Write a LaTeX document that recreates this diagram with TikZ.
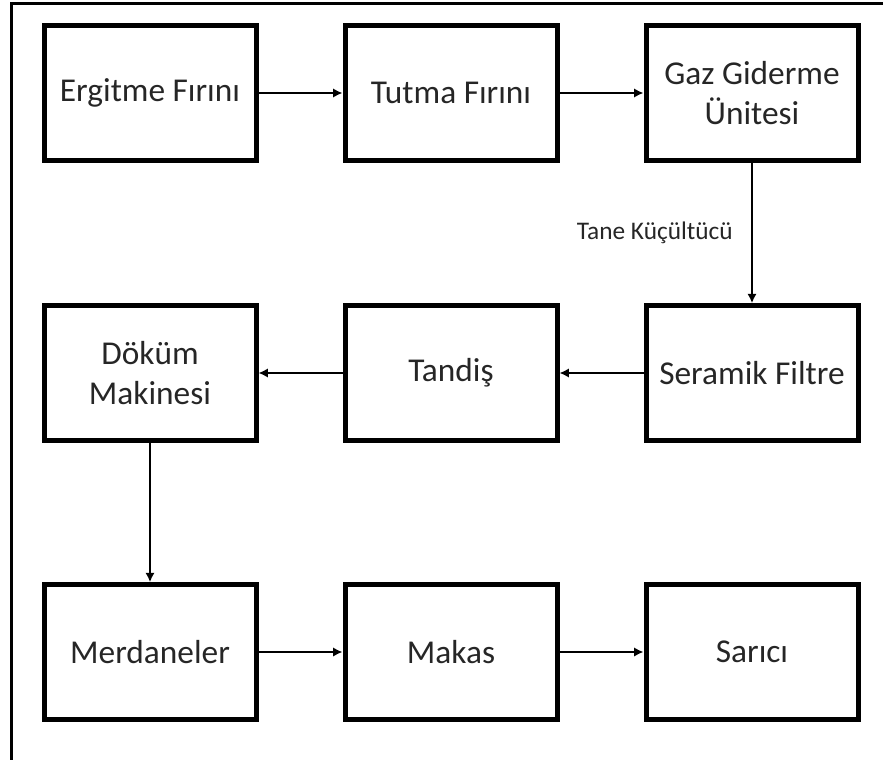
\documentclass[tikz,border=0pt]{standalone}
\usepackage{fontspec}
\setmainfont{Carlito}
\usetikzlibrary{arrows.meta,positioning}

\begin{document}
\begin{tikzpicture}
                \tikzset{x={(0.75pt, 0pt)}, y={(0pt, -0.75pt)}}
                \tikzset{stage/.style={draw, line width=3.75pt, minimum width=159pt, minimum height=101pt, inner sep=0pt, align=center, text=black!85, font=\fontsize{25}{30}\selectfont},
                         flow/.style={line width=2.2pt, -{Latex[length=7pt,width=7pt]}}}
                \useasboundingbox (0, 0) rectangle (883, 760);
                \draw[line width=2.25pt] (11, 760) -- (11, 3) -- (883, 3);
                \node[stage] (ergitme) at (150, 93) {Ergitme Fırını};
                \node[stage] (tutma) at (451, 93) {Tutma Fırını};
                \node[stage] (gaz) at (752, 93) {Gaz Giderme\\Ünitesi};
                \node[stage] (seramik) at (752, 373) {Seramik Filtre};
                \node[stage] (tandis) at (451, 373) {Tandiş};
                \node[stage] (dokum) at (150, 373) {Döküm\\Makinesi};
                \node[stage] (merdane) at (150, 652) {Merdaneler};
                \node[stage] (makas) at (451, 652) {Makas};
                \node[stage] (sarici) at (752, 652) {Sarıcı};
                \draw[flow] (ergitme) -- (tutma);
                \draw[flow] (tutma) -- (gaz);
                \draw[flow] (gaz) -- node[midway, left=10pt, text=black!85, font=\fontsize{19}{23}\selectfont] (tane) {Tane Küçültücü} (seramik);
                \draw[flow] (seramik) -- (tandis);
                \draw[flow] (tandis) -- (dokum);
                \draw[flow] (dokum) -- (merdane);
                \draw[flow] (merdane) -- (makas);
                \draw[flow] (makas) -- (sarici);
            \end{tikzpicture}
\end{document}
